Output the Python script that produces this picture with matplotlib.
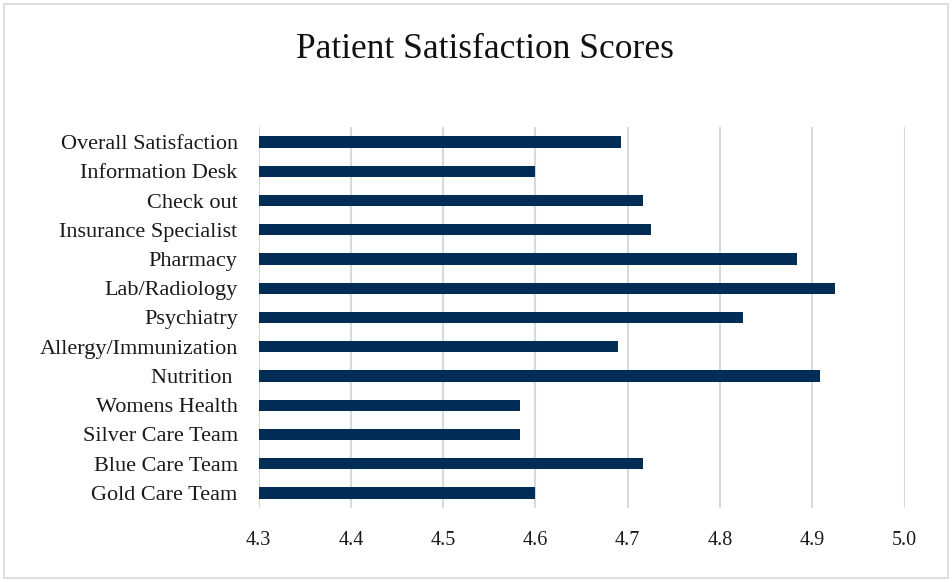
import matplotlib
matplotlib.use("Agg")
import matplotlib.pyplot as plt
from matplotlib.patches import Rectangle

plt.rcParams['font.family'] = ['Liberation Serif', 'DejaVu Serif']

categories = ["Overall Satisfaction", "Information Desk", "Check out", "Insurance Specialist",
              "Pharmacy", "Lab/Radiology", "Psychiatry", "Allergy/Immunization", "Nutrition ",
              "Womens Health", "Silver Care Team", "Blue Care Team", "Gold Care Team"]
scores = [4.693, 4.600, 4.717, 4.725, 4.883, 4.925, 4.825, 4.689, 4.908,
          4.583, 4.583, 4.717, 4.600]
x_ticks = [4.3, 4.4, 4.5, 4.6, 4.7, 4.8, 4.9, 5.0]
x_tick_labels = ["4.3", "4.4", "4.5", "4.6", "4.7", "4.8", "4.9", "5.0"]

fig = plt.figure(figsize=(9.52, 5.82), dpi=100)
# axes placed in pixel terms: left 258.5, right 904.7, top 127.4, bottom 507.6
W, H = 952, 582
ax = fig.add_axes([258.5 / W, 1 - 507.6 / H, (904.7 - 258.5) / W, (507.6 - 127.4) / H])

ypos = list(range(len(categories)))
base = 4.3
ax.barh(ypos, [s - base for s in scores], left=base, height=0.38, color="#002d56")

ax.set_xlim(4.3, 5.0)
ax.set_ylim(len(categories) - 0.5, -0.5)
ax.set_xticks(x_ticks)
ax.set_xticklabels(x_tick_labels)
ax.set_yticks(ypos)
ax.set_yticklabels(categories)
ax.tick_params(axis="y", length=0, pad=15, labelsize=16, labelcolor="#1a1a1a")
ax.tick_params(axis="x", length=0, pad=17, labelsize=14.5, labelcolor="#1a1a1a")

ax.grid(axis="x", color="#d9d9d9", linewidth=1.5)
ax.set_axisbelow(True)
for s in ax.spines.values():
    s.set_visible(False)

fig.text(485 / W, 1 - 49 / H, "Patient Satisfaction Scores", ha="center", va="center",
         fontsize=25.5, color="#111111")

# light frame around the chart
fig.patches.append(Rectangle((4 / W, 4 / H), (W - 8) / W, (H - 8) / H,
                             transform=fig.transFigure, fill=False,
                             edgecolor="#d9d9d9", linewidth=1.2))

fig.savefig("out.png", dpi=100)
